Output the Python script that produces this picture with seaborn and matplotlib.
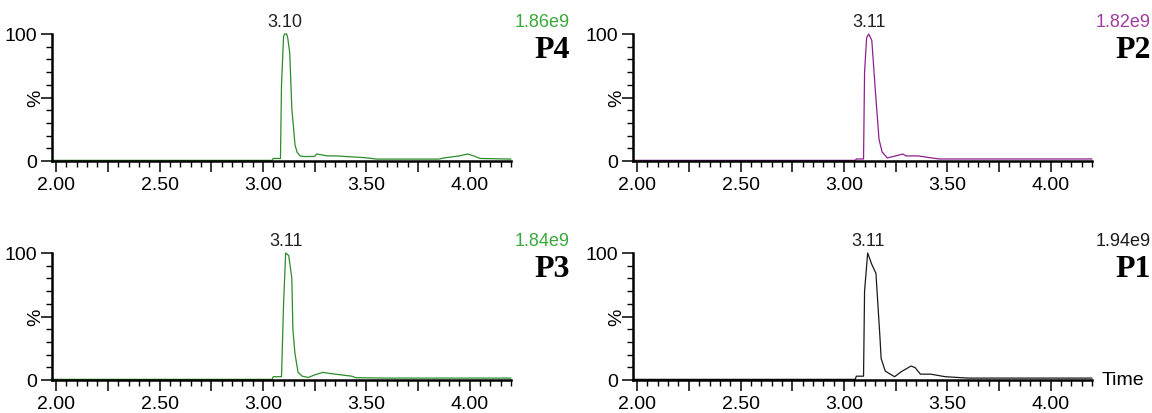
"""
Chromatogram panels P1-P4 (relative intensity vs retention time)
"""

import numpy as np
import pandas as pd
import matplotlib.pyplot as plt
from matplotlib.ticker import MultipleLocator, FuncFormatter
import seaborn as sns

# retention time (min) / relative intensity (%)
p4_time = [1.98, 3.045, 3.05, 3.085, 3.09, 3.10, 3.105, 3.115, 3.12, 3.13, 3.14, 3.15, 3.155,
           3.165, 3.18, 3.20, 3.25, 3.26, 3.29, 3.31, 3.36, 3.40, 3.46, 3.50, 3.55, 3.70,
           3.85, 3.88, 3.95, 3.99, 4.02, 4.05, 4.20]
p4_int = [0.5, 0.5, 2.0, 2.0, 60, 98, 100, 100, 97, 85, 41, 23, 13,
          7, 4, 3.5, 3.6, 5.5, 4.7, 4.0, 4.0, 3.5, 3.0, 2.5, 1.5, 1.5,
          1.5, 2.5, 4.0, 5.5, 4.0, 2.0, 1.5]

p2_time = [1.98, 3.055, 3.06, 3.095, 3.10, 3.11, 3.12, 3.135, 3.155, 3.17, 3.185, 3.21,
           3.25, 3.285, 3.30, 3.36, 3.40, 3.46, 3.60, 3.80, 4.00, 4.20]
p2_int = [0.5, 0.5, 1.6, 1.6, 70, 97, 100, 95, 49, 17, 7, 2.4,
          4.0, 5.5, 4.0, 4.0, 3.0, 1.6, 1.6, 1.6, 1.6, 1.6]

p3_time = [1.98, 3.045, 3.05, 3.09, 3.10, 3.11, 3.125, 3.14, 3.145, 3.155, 3.17, 3.19,
           3.22, 3.25, 3.29, 3.33, 3.43, 3.45, 3.60, 3.80, 4.00, 4.20]
p3_int = [0.5, 0.5, 2.6, 2.6, 60, 100, 98, 80, 40, 21, 6, 3,
          2, 4, 6, 5, 3, 1.8, 1.5, 1.5, 1.5, 1.5]

p1_time = [1.98, 3.055, 3.06, 3.095, 3.10, 3.115, 3.135, 3.155, 3.165, 3.175, 3.18, 3.20,
           3.245, 3.28, 3.325, 3.345, 3.37, 3.42, 3.49, 3.60, 3.80, 4.00, 4.20]
p1_int = [0.5, 0.5, 3.0, 3.0, 70, 100, 91, 84, 58, 32, 17, 7,
          2.6, 6.8, 11, 9.7, 4.6, 4.6, 2.6, 1.5, 1.5, 1.5, 1.5]

panels = ["P4", "P2", "P3", "P1"]
peak_labels = ["3.10", "3.11", "3.11", "3.11"]
max_labels = ["1.86e9", "1.82e9", "1.84e9", "1.94e9"]
line_colors = ["#2b8c2b", "#8e1f8e", "#2b8c2b", "#1a1a1a"]
text_colors = ["#3aa83a", "#a03ca0", "#3aa83a", "#1a1a1a"]
traces = [(p4_time, p4_int), (p2_time, p2_int), (p3_time, p3_int), (p1_time, p1_int)]

sns.set_style("ticks")
plt.rcParams["font.family"] = ["Liberation Sans", "DejaVu Sans"]
plt.rcParams["text.color"] = "black"

W, H = 1152, 414
fig = plt.figure(figsize=(W / 100, H / 100), dpi=100)

# axes boxes in pixels: (left, bottom-from-top)
boxes = [(52, 162), (633, 162), (52, 381), (633, 381)]
ax_w, ax_h = 459, 127

for i, name in enumerate(panels):
    left, base = boxes[i]
    ax = fig.add_axes([left / W, 1 - base / H, ax_w / W, ax_h / H])
    t, y = traces[i]
    df = pd.DataFrame({"time": t, "pct": y})
    sns.lineplot(data=df, x="time", y="pct", ax=ax, color=line_colors[i],
                 linewidth=0.9, sort=False, estimator=None)
    for ln in ax.lines:
        ln.set_clip_on(False)

    ax.set_xlim(1.98, 4.2)
    ax.set_ylim(0, 100)
    ax.set_xlabel("")
    ax.set_ylabel("")
    sns.despine(ax=ax)
    for s in ["left", "bottom"]:
        ax.spines[s].set_linewidth(1.8)
        ax.spines[s].set_color("black")

    ax.xaxis.set_major_locator(MultipleLocator(0.25))
    ax.xaxis.set_minor_locator(MultipleLocator(0.05))
    ax.xaxis.set_major_formatter(
        FuncFormatter(lambda v, p: f"{v:.2f}" if abs(v * 2 - round(v * 2)) < 1e-6 else ""))
    ax.yaxis.set_major_locator(MultipleLocator(50))
    ax.yaxis.set_minor_locator(MultipleLocator(10))
    ax.yaxis.set_major_formatter(
        FuncFormatter(lambda v, p: {0: "0", 100: "100"}.get(int(round(v)), "")))
    ax.tick_params(axis="both", which="major", direction="out", length=8, width=1.1,
                   labelsize=14, colors="black", pad=3)
    ax.tick_params(axis="both", which="minor", direction="out", length=4, width=1.0,
                   colors="black")
    ax.text(-0.035, 0.5, "%", transform=ax.transAxes, rotation=90, fontsize=14,
            ha="center", va="center", color="black")

    # peak apex label
    k = int(np.argmax(y))
    ax.annotate(peak_labels[i], xy=(t[k], 100), xytext=(0, 3), textcoords="offset points",
                ha="center", va="bottom", fontsize=13, color="#222222")
    # base peak intensity and sample name, right of the panel
    ax.text(1.128, 1.03, max_labels[i], transform=ax.transAxes, ha="right", va="bottom",
            fontsize=13, color=text_colors[i])
    ax.text(1.128, 0.99, name, transform=ax.transAxes, ha="right", va="top",
            fontsize=23, fontweight="bold", family="Liberation Serif", color="black")
    if name == "P1":
        ax.text(1.02, 0.0, "Time", transform=ax.transAxes, ha="left", va="center",
                fontsize=14, color="black")

plt.savefig("out.png", dpi=100)
